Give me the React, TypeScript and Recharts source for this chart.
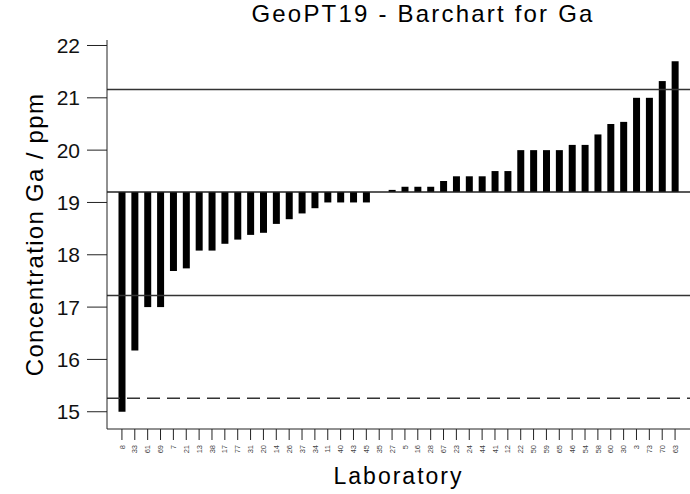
import { BarChart, Bar, XAxis, YAxis, ReferenceLine } from "recharts";

// laboratory codes in plotted (sorted) order
const LABS = ["8","33","61","69","7","21","13","38","17","77","31","20","14","26","37","34","11","40","43","45","35","27","5","16","28","67","23","24","44","41","12","22","50","59","65","46","54","58","60","30","3","73","70","63"];
// reported Ga concentrations (ppm)
const VALUES = [15.0,16.17,17.0,17.0,17.69,17.74,18.08,18.08,18.21,18.29,18.38,18.42,18.59,18.68,18.79,18.89,19.0,19.0,19.0,19.0,19.2,19.24,19.3,19.3,19.3,19.41,19.5,19.5,19.5,19.6,19.6,20.0,20.0,20.0,20.0,20.1,20.1,20.3,20.5,20.54,21.0,21.0,21.32,21.7];

const ASSIGNED = 19.2;
const LIMITS = [21.16, 17.22];
const LOW_DASHED = 15.26;
const Y_TICKS = [15, 16, 17, 18, 19, 20, 21, 22];

const data = LABS.map((lab, i) => ({
  lab,
  range: [Math.min(VALUES[i], ASSIGNED), Math.max(VALUES[i], ASSIGNED)],
}));

const FONT = "'Liberation Sans', Arial, sans-serif";

function LabTick({ x, y, payload }: any) {
  return (
    <text x={x} y={y} dy="0.35em" transform={`rotate(-90, ${x}, ${y})`}
      textAnchor="end" fontSize={7.5} fill="#444" fontFamily={FONT}>
      {payload.value}
    </text>
  );
}

export default function App() {
  return (
    <div style={{ position: "absolute", left: 0, top: 0, width: 690, height: 494, background: "#fff", fontFamily: FONT }}>
      <div style={{ position: "absolute", top: 2, left: 423, transform: "translateX(-50%)", whiteSpace: "nowrap",
        fontSize: 24, lineHeight: "24px", letterSpacing: 2.2, color: "#000" }}>
        GeoPT19 - Barchart for Ga
      </div>
      <BarChart width={690} height={494} data={data} margin={{ top: 40, right: 0, bottom: 0, left: 0 }}>
        <XAxis dataKey="lab" interval={0} height={65} padding={{ left: 8.5, right: 8.5 }}
          tick={<LabTick />} tickSize={11} tickMargin={5}
          axisLine={{ stroke: "#222" }} tickLine={{ stroke: "#222" }}
          label={{ value: "Laboratory", position: "insideBottom", offset: 10, fontSize: 23, fill: "#000", style: { letterSpacing: 2, fontFamily: FONT } }} />
        <XAxis xAxisId="top" dataKey="lab" orientation="top" height={0} tick={false} tickLine={false}
          axisLine={{ stroke: "#333" }} />
        <YAxis type="number" domain={[14.67, 22.105]} ticks={Y_TICKS} width={107} allowDataOverflow
          tickSize={20} tickMargin={7} axisLine={{ stroke: "#222" }} tickLine={{ stroke: "#222" }}
          tick={{ fontSize: 21, fill: "#111", fontFamily: FONT }}
          label={{ value: "Concentration Ga / ppm", angle: -90, position: "insideLeft", offset: 34, fontSize: 24, fill: "#000",
            style: { textAnchor: "middle", letterSpacing: 1.3, fontFamily: FONT } }} />
        {LIMITS.map((v) => (
          <ReferenceLine key={v} y={v} stroke="#333" strokeWidth={1.5} />
        ))}
        <ReferenceLine y={LOW_DASHED} stroke="#333" strokeWidth={1.5} strokeDasharray="13 7" />
        <Bar dataKey="range" fill="#000" barSize={7} isAnimationActive={false} />
        <ReferenceLine y={ASSIGNED} stroke="#222" strokeWidth={1.5} />
      </BarChart>
    </div>
  );
}
